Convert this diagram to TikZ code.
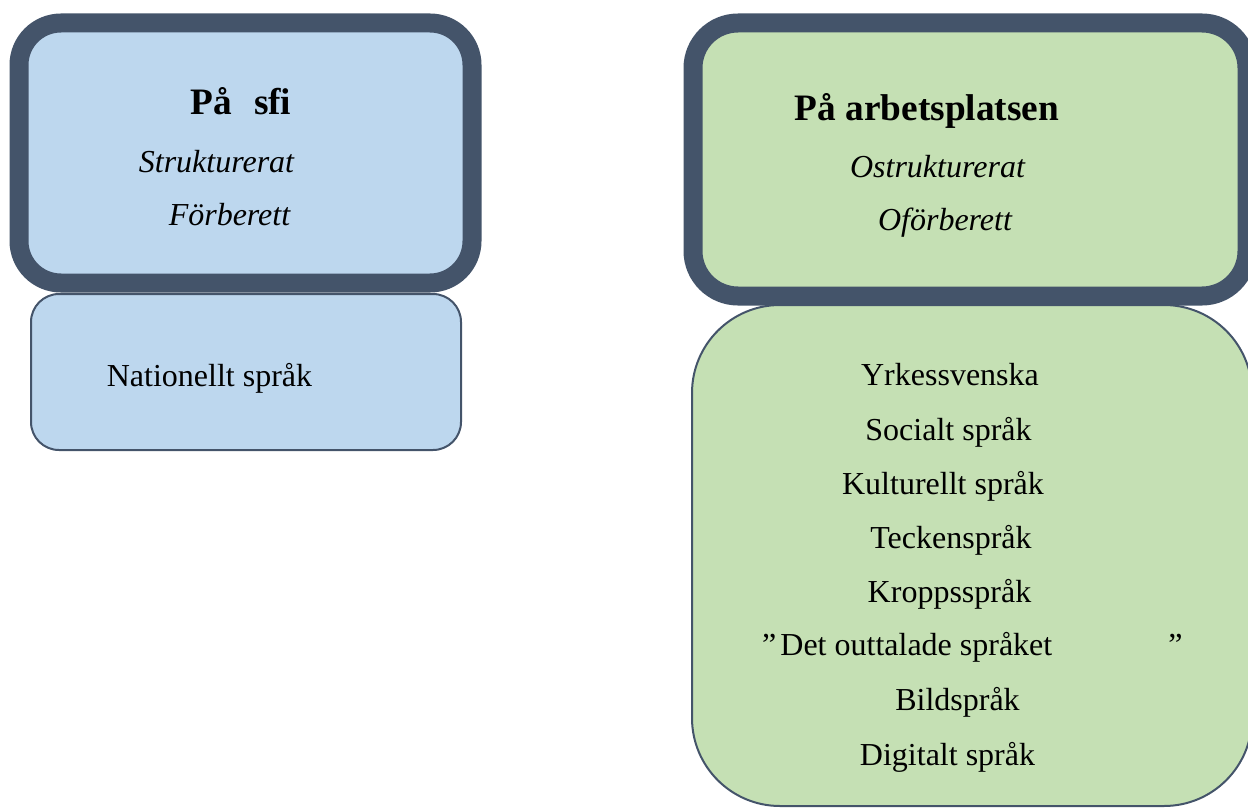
\documentclass[tikz,border=0pt]{standalone}
\usepackage{fontspec}
\setmainfont{Liberation Serif}
\definecolor{frame}{HTML}{44546A}
\definecolor{lblue}{HTML}{BDD7EE}
\definecolor{lgreen}{HTML}{C5E0B4}
\tikzset{
  thickbox/.style={draw=frame, line width=19pt, rectangle, inner sep=0pt},
  thinbox/.style={draw=frame, line width=2pt, rectangle, inner sep=0pt},
  body/.style={anchor=base, inner sep=0pt, font=\fontsize{32}{38}\selectfont},
  bodyit/.style={body, font=\fontsize{32}{38}\selectfont\itshape},
  title/.style={anchor=base, inner sep=0pt, font=\fontsize{37.3}{44}\selectfont\bfseries}
}
\begin{document}
\begin{tikzpicture}[x=1pt,y=-1pt]
\useasboundingbox (0,0) rectangle (1248,808);
% lower boxes
\node[thinbox, fill=lblue, rounded corners=28pt, minimum width=430pt, minimum height=156pt] (nat) at (246,372) {};
\node[thinbox, fill=lgreen, rounded corners=88pt, minimum width=560pt, minimum height=501pt] (list) at (972,555.5) {};
% upper boxes
\node[thickbox, fill=lblue, rounded corners=42pt, minimum width=453pt, minimum height=260pt] (sfi) at (245.5,153) {};
\node[thickbox, fill=lgreen, rounded corners=45pt, minimum width=554pt, minimum height=273pt] (arb) at (970,159.5) {};
% left texts
\node[title] (t1) at (241,114) {På\hspace{22pt}sfi};
\node[bodyit] (t2) at (216.5,172) {Strukturerat};
\node[bodyit] (t3) at (229.5,225) {Förberett};
\node[body] (t4) at (209.5,386) {Nationellt språk};
% right texts
\node[title] (r1) at (927,120) {På arbetsplatsen};
\node[bodyit] (r2) at (937.5,177) {Ostrukturerat};
\node[bodyit] (r3) at (945,230) {Oförberett};
\node[body] (l1) at (950,385) {Yrkessvenska};
\node[body] (l2) at (948.5,440) {Socialt språk};
\node[body] (l3) at (943,494) {Kulturellt språk};
\node[body] (l4) at (951,548) {Teckenspråk};
\node[body] (l5) at (949.5,602) {Kroppsspråk};
\node[body, anchor=base west] (l6) at (762,655) {”\hspace{4pt}Det outtalade språket\hspace{116pt}”};
\node[body] (l7) at (957.5,710) {Bildspråk};
\node[body] (l8) at (947.5,765) {Digitalt språk};
\end{tikzpicture}
\end{document}
